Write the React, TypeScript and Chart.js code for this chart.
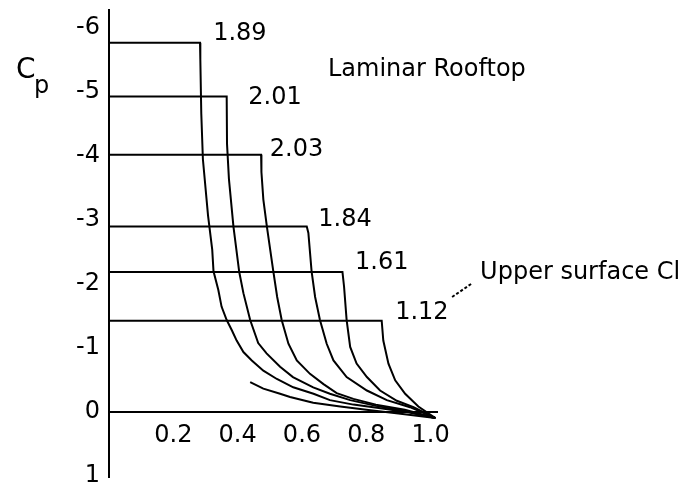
import React, { useEffect, useRef } from 'react';
import { Chart, registerables } from 'chart.js';

Chart.register(...registerables);

const FONT = '"DejaVu Sans", Verdana, sans-serif';

// Pressure distributions: [x/c, Cp]
const curve189: [number, number][] = [
  [0, -5.76], [0.283, -5.76], [0.284, -5.5], [0.287, -4.65], [0.292, -3.94], [0.308, -3.06],
  [0.321, -2.53], [0.325, -2.19], [0.340, -1.90], [0.350, -1.64], [0.366, -1.43], [0.382, -1.27],
  [0.397, -1.11], [0.418, -0.93], [0.444, -0.80], [0.480, -0.64], [0.522, -0.51], [0.573, -0.38],
  [0.636, -0.28], [0.687, -0.18], [0.76, -0.11], [0.85, -0.05], [0.93, 0.01], [1.015, 0.1],
];
const curve201: [number, number][] = [
  [0, -4.92], [0.366, -4.92], [0.367, -4.18], [0.373, -3.63], [0.387, -2.89], [0.405, -2.18],
  [0.418, -1.85], [0.439, -1.43], [0.464, -1.07], [0.490, -0.91], [0.532, -0.70], [0.572, -0.54],
  [0.635, -0.38], [0.687, -0.28], [0.75, -0.18], [0.83, -0.09], [0.92, -0.01], [1.015, 0.1],
];
const curve203: [number, number][] = [
  [0, -4.01], [0.473, -4.01], [0.474, -3.74], [0.480, -3.31], [0.491, -2.89], [0.511, -2.19],
  [0.523, -1.79], [0.537, -1.43], [0.558, -1.06], [0.584, -0.80], [0.625, -0.59], [0.667, -0.43],
  [0.708, -0.29], [0.76, -0.20], [0.83, -0.11], [0.92, -0.03], [1.015, 0.1],
];
const curve184: [number, number][] = [
  [0, -2.89], [0.615, -2.89], [0.620, -2.79], [0.630, -2.19], [0.641, -1.79], [0.656, -1.43],
  [0.677, -1.06], [0.698, -0.80], [0.739, -0.54], [0.802, -0.33], [0.864, -0.18], [0.936, -0.07],
  [1.015, 0.1],
];
const curve161: [number, number][] = [
  [0, -2.18], [0.726, -2.18], [0.731, -1.95], [0.739, -1.43], [0.750, -1.01], [0.770, -0.75],
  [0.802, -0.54], [0.843, -0.33], [0.895, -0.17], [0.947, -0.07], [1.015, 0.1],
];
const curve112: [number, number][] = [
  [0, -1.42], [0.848, -1.42], [0.853, -1.11], [0.869, -0.75], [0.890, -0.49], [0.921, -0.28],
  [0.962, -0.08], [1.015, 0.1],
];
const curveNoRoof: [number, number][] = [
  [0.439, -0.46], [0.48, -0.36], [0.532, -0.28], [0.563, -0.23], [0.635, -0.14], [0.719, -0.08],
  [0.80, -0.03], [0.90, 0.03], [1.015, 0.1],
];
const curves = [curve189, curve201, curve203, curve184, curve161, curve112, curveNoRoof];

// Annotations (data units)
const rooftopLabels = ['1.89', '2.01', '2.03', '1.84', '1.61', '1.12'];
const rooftopLabelX = [0.324, 0.433, 0.500, 0.651, 0.765, 0.890];
const rooftopLabelCp = [-5.90, -4.90, -4.09, -2.99, -2.33, -1.54];
const titleText = 'Laminar Rooftop';
const titleAt: [number, number] = [0.681, -5.33];
const noteText = 'Upper surface Cl';
const noteAt: [number, number] = [1.154, -2.17];
const leaderLine: [number, number][] = [[1.067, -1.79], [1.128, -2.00]];

const xMin = 0;
const xMax = 1.02;
const yMin = -6.27;
const yMax = 1.02;

const annotPlugin = {
  id: 'annot',
  afterDraw(chart: any) {
    const { ctx, scales, chartArea } = chart;
    const x = scales.x;
    const y = scales.y;
    ctx.save();
    ctx.fillStyle = '#000';
    ctx.strokeStyle = '#000';
    ctx.font = `24px ${FONT}`;
    ctx.textAlign = 'left';
    ctx.textBaseline = 'middle';
    rooftopLabels.forEach((t, i) => {
      ctx.fillText(t, x.getPixelForValue(rooftopLabelX[i]), y.getPixelForValue(rooftopLabelCp[i]));
    });
    ctx.fillText(titleText, x.getPixelForValue(titleAt[0]), y.getPixelForValue(titleAt[1]));
    ctx.fillText(noteText, x.getPixelForValue(noteAt[0]), y.getPixelForValue(noteAt[1]));
    ctx.lineWidth = 2;
    ctx.setLineDash([3, 2]);
    ctx.beginPath();
    ctx.moveTo(x.getPixelForValue(leaderLine[0][0]), y.getPixelForValue(leaderLine[0][1]));
    ctx.lineTo(x.getPixelForValue(leaderLine[1][0]), y.getPixelForValue(leaderLine[1][1]));
    ctx.stroke();
    ctx.setLineDash([]);
    // Axis title C_p
    ctx.textBaseline = 'alphabetic';
    ctx.font = `28px ${FONT}`;
    ctx.fillText('C', chartArea.left - 93, chartArea.top + 68);
    ctx.font = `24px ${FONT}`;
    ctx.fillText('p', chartArea.left - 75, chartArea.top + 83);
    ctx.restore();
  },
};

export default function App() {
  const ref = useRef<HTMLCanvasElement | null>(null);

  useEffect(() => {
    if (!ref.current) return;
    const chart = new Chart(ref.current, {
      type: 'line',
      data: {
        datasets: curves.map((c) => ({
          data: c.map(([px, cp]) => ({ x: px, y: cp })),
          borderColor: '#000',
          borderWidth: 2,
          pointRadius: 0,
          fill: false,
          tension: 0,
        })),
      },
      options: {
        animation: false,
        responsive: false,
        maintainAspectRatio: false,
        layout: { padding: { top: 10, bottom: 7, left: 0, right: 245 } },
        plugins: {
          legend: { display: false },
          tooltip: { enabled: false },
        },
        scales: {
          x: {
            type: 'linear',
            position: { y: 0 } as any,
            min: xMin,
            max: xMax,
            grid: { display: false, drawTicks: false },
            border: { display: true, color: '#000', width: 2 },
            ticks: {
              stepSize: 0.2,
              includeBounds: false,
              autoSkip: false,
              maxRotation: 0,
              padding: 10,
              color: '#000',
              font: { family: FONT, size: 24 },
              callback: (v: any) => (Math.abs(Number(v)) < 1e-9 ? '' : Number(v).toFixed(1)),
            },
            afterFit: (s: any) => {
              s.height = 0;
              s.paddingLeft = 0;
              s.paddingRight = 0;
            },
          },
          y: {
            type: 'linear',
            position: 'left',
            reverse: true,
            min: yMin,
            max: yMax,
            grid: { display: false, drawTicks: false },
            border: { display: true, color: '#000', width: 2 },
            ticks: {
              stepSize: 1,
              includeBounds: false,
              autoSkip: false,
              padding: 9,
              color: '#000',
              font: { family: FONT, size: 24 },
              callback: (v: any) => String(Math.round(Number(v))),
            },
            afterFit: (s: any) => {
              s.width = 109;
              s.paddingTop = 0;
              s.paddingBottom = 0;
            },
          },
        },
      },
      plugins: [annotPlugin],
    });
    return () => chart.destroy();
  }, []);

  return (
    <div style={{ position: 'fixed', left: 0, top: 0, width: 682, height: 484, background: '#fff' }}>
      <canvas ref={ref} width={682} height={484} style={{ display: 'block', width: 682, height: 484 }} />
    </div>
  );
}
